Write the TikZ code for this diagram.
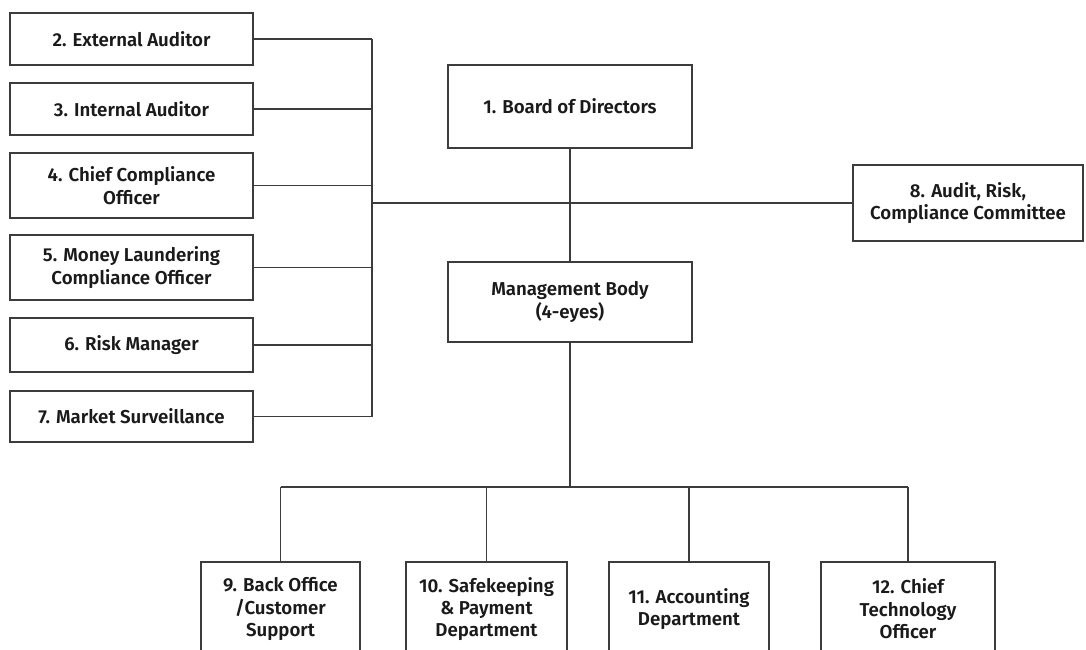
\documentclass[tikz,border=0pt]{standalone}
\usepackage{fontspec}
\setmainfont{Fira Sans}[BoldFont={Fira Sans SemiBold}]
\usetikzlibrary{positioning}
\definecolor{boxline}{HTML}{3C3C3C}
\definecolor{ink}{HTML}{1A1A1A}

\begin{document}
\begin{tikzpicture}[x=0.75pt,y=-0.75pt,
  every node/.style={draw=boxline,line width=1.4pt,align=center,text=ink,inner sep=0pt,
    font=\fontsize{14}{16.8}\selectfont\bfseries},
  leftbox/.style={minimum width=182pt},
  lowbox/.style={minimum height=70.5pt},
  link/.style={draw=boxline,line width=1pt}]
\clip (0,0) rectangle (1086,650);
% left column
\node[leftbox,minimum height=39pt] (b2) at (131.5,39) {2. External Auditor};
\node[leftbox,minimum height=39pt] (b3) at (131.5,109) {3. Internal Auditor};
\node[leftbox,minimum height=48.75pt] (b4) at (131.5,185.5) {4. Chief Compliance\\Officer};
\node[leftbox,minimum height=48.75pt] (b5) at (131.5,267.5) {5. Money Laundering\\Compliance Officer};
\node[leftbox,minimum height=40.5pt] (b6) at (131.5,345) {6. Risk Manager};
\node[leftbox,minimum height=38.25pt] (b7) at (131.5,416.5) {7. Market Surveillance};
% centre and right
\node[minimum width=183pt,minimum height=62.25pt] (b1) at (570,106.5) {1. Board of Directors};
\node[minimum width=183pt,minimum height=60pt] (mb) at (570,302) {Management Body\\(4-eyes)};
\node[minimum width=172.5pt,minimum height=57pt] (b8) at (968,203) {8. Audit, Risk,\\Compliance Committee};
% bottom row
\node[lowbox,minimum width=119.25pt] (b9) at (280.5,609) {9. Back Office\\/Customer\\Support};
\node[lowbox,minimum width=120.75pt] (b10) at (486.5,609) {10. Safekeeping\\\& Payment\\Department};
\node[lowbox,minimum width=120pt] (b11) at (689,609) {11. Accounting\\Department};
\node[lowbox,minimum width=130.5pt] (b12) at (908,609) {12. Chief\\Technology\\Officer};

\coordinate (spine) at (372,203);
\coordinate (bus) at (570,487);

\foreach \b in {b2,b3,b4,b5,b6,b7}
  \draw[link] (\b.east) -- (\b.east -| spine);
\draw[link] (b2.east -| spine) -- (b7.east -| spine);
\draw[link] (spine) -- (b8.west);
\draw[link] (b1) -- (mb);
\draw[link] (mb) -- (bus);
\draw[link] (b9.north |- bus) -- (b12.north |- bus);
\foreach \b in {b9,b10,b11,b12}
  \draw[link] (\b.north |- bus) -- (\b.north);
\end{tikzpicture}
\end{document}
